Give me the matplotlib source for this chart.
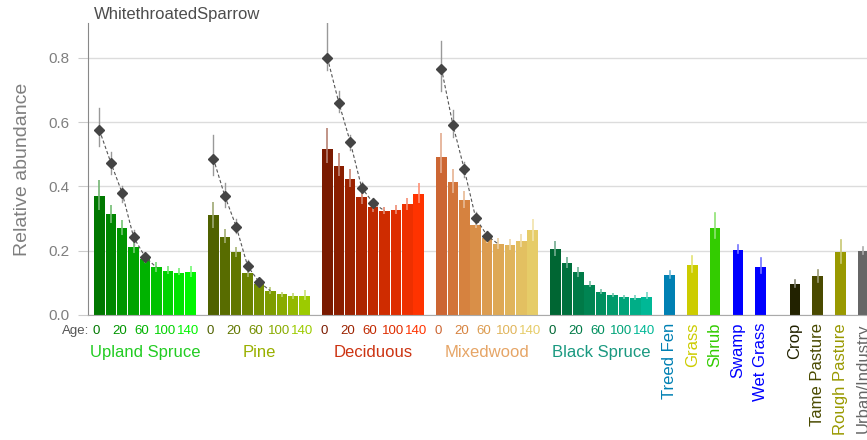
import matplotlib
matplotlib.use("Agg")
import matplotlib.pyplot as plt
from matplotlib.colors import to_rgb
import numpy as np

plt.rcParams['font.family'] = ['Liberation Sans', 'DejaVu Sans']

# ---------------- data ----------------
title = "WhitethroatedSparrow"
ylabel = "Relative abundance"
age_labels = ['0', '20', '60', '100', '140']
age_label_bars = [0, 2, 4, 6, 8]

groups = ['Upland Spruce', 'Pine', 'Deciduous', 'Mixedwood', 'Black Spruce']

upland = [0.370, 0.314, 0.270, 0.210, 0.174, 0.148, 0.138, 0.132, 0.134]
upland_lo = [0.327, 0.286, 0.249, 0.194, 0.162, 0.135, 0.128, 0.124, 0.119]
upland_hi = [0.420, 0.342, 0.295, 0.230, 0.187, 0.166, 0.152, 0.147, 0.152]

pine = [0.311, 0.244, 0.195, 0.132, 0.096, 0.075, 0.064, 0.059, 0.059]
pine_lo = [0.270, 0.223, 0.181, 0.119, 0.088, 0.065, 0.057, 0.049, 0.047]
pine_hi = [0.352, 0.267, 0.212, 0.142, 0.109, 0.086, 0.072, 0.069, 0.078]

decid = [0.515, 0.463, 0.424, 0.368, 0.337, 0.324, 0.327, 0.344, 0.376]
decid_lo = [0.474, 0.432, 0.399, 0.345, 0.321, 0.314, 0.314, 0.327, 0.349]
decid_hi = [0.580, 0.503, 0.453, 0.394, 0.355, 0.337, 0.342, 0.363, 0.410]

mixed = [0.492, 0.414, 0.358, 0.281, 0.240, 0.220, 0.218, 0.230, 0.264]
mixed_lo = [0.441, 0.379, 0.332, 0.270, 0.225, 0.204, 0.202, 0.212, 0.231]
mixed_hi = [0.567, 0.453, 0.387, 0.301, 0.254, 0.239, 0.236, 0.251, 0.299]

black = [0.204, 0.161, 0.133, 0.094, 0.072, 0.061, 0.055, 0.053, 0.057]
black_lo = [0.184, 0.145, 0.119, 0.086, 0.064, 0.055, 0.049, 0.047, 0.049]
black_hi = [0.231, 0.181, 0.148, 0.106, 0.081, 0.069, 0.062, 0.062, 0.071]

# post-disturbance (diamond) series for the first five age classes
upland_d = [0.575, 0.474, 0.379, 0.242, 0.181]
upland_d_lo = [0.524, 0.440, 0.352, 0.218, 0.166]
upland_d_hi = [0.643, 0.508, 0.400, 0.264, 0.192]

pine_d = [0.486, 0.370, 0.275, 0.152, 0.103]
pine_d_lo = [0.435, 0.337, 0.254, 0.135, 0.093]
pine_d_hi = [0.560, 0.410, 0.298, 0.171, 0.112]

decid_d = [0.799, 0.660, 0.538, 0.396, 0.349]
decid_d_lo = [0.762, 0.632, 0.513, 0.379, 0.337]
decid_d_hi = [0.907, 0.695, 0.560, 0.415, 0.363]

mixed_d = [0.766, 0.592, 0.453, 0.302, 0.247]
mixed_d_lo = [0.695, 0.553, 0.430, 0.283, 0.233]
mixed_d_hi = [0.853, 0.638, 0.477, 0.321, 0.261]

singles = ['Treed Fen', 'Grass', 'Shrub', 'Swamp', 'Wet Grass',
           'Crop', 'Tame Pasture', 'Rough Pasture', 'Urban/Industry']
singles_val = [0.124, 0.155, 0.270, 0.202, 0.148, 0.095, 0.120, 0.195, 0.200]
singles_lo = [0.114, 0.135, 0.239, 0.192, 0.130, 0.086, 0.104, 0.161, 0.190]
singles_hi = [0.138, 0.184, 0.318, 0.218, 0.176, 0.109, 0.140, 0.233, 0.212]

# ---------------- styles ----------------
upland_cols = ['#007800', '#008700', '#009500', '#00a300', '#00b200',
               '#00c200', '#00d200', '#00e300', '#00f500']
pine_cols = ['#4f6100', '#586c00', '#617700', '#6a8200', '#748f00',
             '#7e9d00', '#89ab00', '#93b900', '#9ccb00']
decid_cols = ['#7a1a00', '#8a1e00', '#9b2200', '#ad2500', '#c02900',
              '#cf2c00', '#de2d00', '#ee3000', '#ff3300']
mixed_cols = ['#cc6633', '#d27439', '#d6823f', '#d98f48', '#dc9c50',
              '#dea855', '#e0b45b', '#e3c061', '#e6cc68']
black_cols = ['#006633', '#00703d', '#007a47', '#008452', '#008f5e',
              '#009a6b', '#00a479', '#00ae87', '#00b896']
group_label_cols = ['#22cc22', '#99b000', '#cc3311', '#e6a566', '#1a9980']
singles_cols = ['#0080b3', '#cccc00', '#33cc00', '#0000ff', '#0000ff',
                '#222200', '#4a4a00', '#999900', '#666666']

group_starts = [0, 10, 20, 30, 40]
singles_slots = [50, 52, 54, 56, 58, 61, 63, 65, 67]


def tint(c, f=0.45):
    r = np.array(to_rgb(c))
    return tuple(r + (1 - r) * f)


fig = plt.figure(figsize=(8.67, 4.40), dpi=100)
ax = fig.add_axes([88 / 867, 125 / 440, 1 - 88 / 867, 292 / 440])

bar_w = 0.92
group_data = [
    (upland, upland_lo, upland_hi, upland_cols),
    (pine, pine_lo, pine_hi, pine_cols),
    (decid, decid_lo, decid_hi, decid_cols),
    (mixed, mixed_lo, mixed_hi, mixed_cols),
    (black, black_lo, black_hi, black_cols),
]
diamond_data = [
    (upland_d, upland_d_lo, upland_d_hi),
    (pine_d, pine_d_lo, pine_d_hi),
    (decid_d, decid_d_lo, decid_d_hi),
    (mixed_d, mixed_d_lo, mixed_d_hi),
]

xtr = ax.get_xaxis_transform()

for gi, (vals, lo, hi, cols) in enumerate(group_data):
    xs = group_starts[gi] + np.arange(len(vals))
    ax.bar(xs, vals, width=bar_w, color=cols, zorder=2, linewidth=0)
    for x, l, h, c in zip(xs, lo, hi, cols):
        ax.plot([x, x], [l, h], color=tint(c), lw=1.2, zorder=3,
                solid_capstyle='butt')
    # age labels
    for b, lab in zip(age_label_bars, age_labels):
        ax.text(xs[b] - 0.25, -0.055, lab, transform=xtr, ha='center',
                va='center', fontsize=9.5, color=cols[b], clip_on=False)
    ax.text(xs[4], -0.13, groups[gi], transform=xtr, ha='center',
            va='center', fontsize=12, color=group_label_cols[gi],
            clip_on=False)

ax.text(group_starts[0] - 0.85, -0.055, 'Age:', transform=xtr, ha='right',
        va='center', fontsize=9.5, color='#555555', clip_on=False)

for gi, (dv, dlo, dhi) in enumerate(diamond_data):
    vals = group_data[gi][0]
    xs = group_starts[gi] + np.arange(len(dv))
    # dashed trend line through the diamonds to the next age class bar
    lx = list(xs) + [group_starts[gi] + len(dv)]
    ly = list(dv) + [vals[len(dv)]]
    ax.plot(lx, ly, ls=(0, (3, 2)), color='#555555', lw=0.8, zorder=4)
    for x, l, h in zip(xs, dlo, dhi):
        ax.plot([x, x], [l, h], color='#999999', lw=1.0, zorder=4)
    ax.plot(xs, dv, ls='none', marker='D', ms=5, color='#444444', zorder=5)

for x, v, l, h, c, name in zip(singles_slots, singles_val, singles_lo,
                               singles_hi, singles_cols, singles):
    ax.bar(x, v, width=bar_w, color=c, zorder=2, linewidth=0)
    ax.plot([x, x], [l, h], color=tint(c), lw=1.2, zorder=3)
    ax.text(x, -0.027, name, transform=xtr, ha='center', va='top',
            rotation=90, fontsize=12, color=c, clip_on=False)

ax.set_xlim(-1.0, 67.32)
ax.set_ylim(0, 0.908)
ax.set_yticks([0.0, 0.2, 0.4, 0.6, 0.8])
ax.set_yticklabels(['0.0', '0.2', '0.4', '0.6', '0.8'])
ax.set_xticks([])
ax.grid(axis='y', color='#dcdcdc', lw=1.0, zorder=0)
ax.set_axisbelow(True)
for s in ['top', 'right']:
    ax.spines[s].set_visible(False)
ax.spines['left'].set_color('#888888')
ax.spines['bottom'].set_color('#aaaaaa')
ax.tick_params(axis='y', colors='#cccccc', labelcolor='#7f7f7f',
               labelsize=11, length=7, pad=6)
ax.set_ylabel(ylabel, fontsize=14, color='#7f7f7f', labelpad=13)

fig.text(94 / 867, 1 - 15 / 440, title, ha='left', va='center',
         fontsize=12, color='#4d4d4d')

fig.savefig('out.png', dpi=100)
